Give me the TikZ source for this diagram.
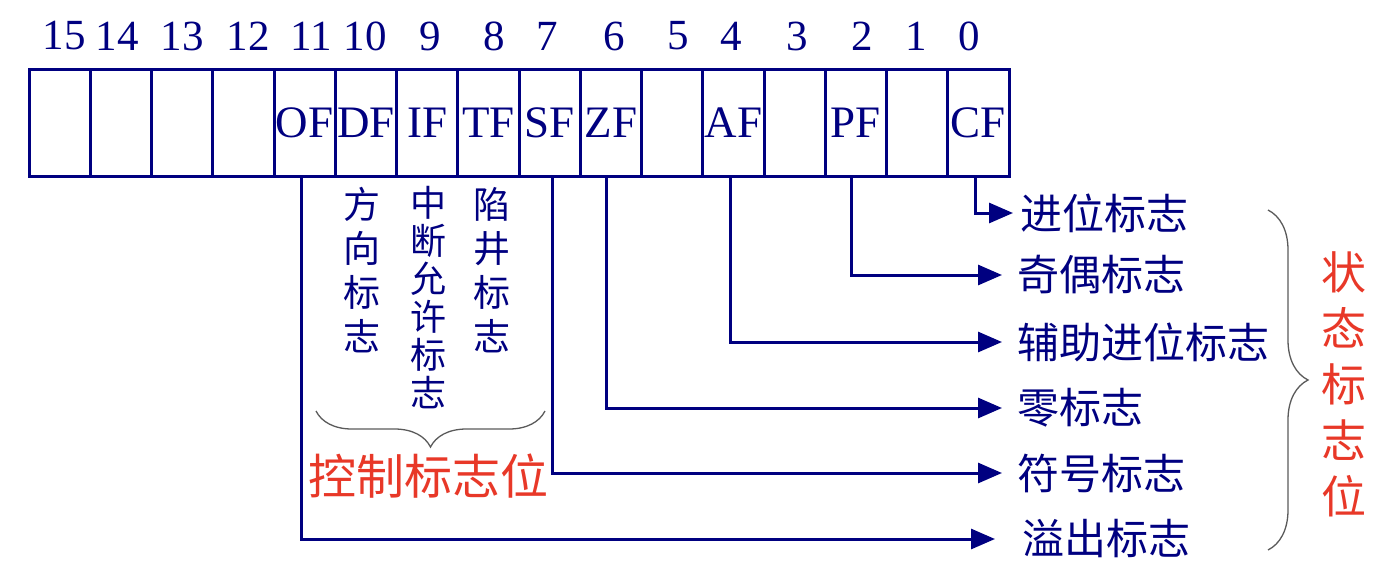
\documentclass[tikz,border=0pt]{standalone}
\usepackage{fontspec}
\setmainfont{Liberation Serif}
\newfontfamily\cjk{Noto Sans CJK SC}
\usetikzlibrary{arrows.meta,decorations.pathreplacing}
\definecolor{navy}{RGB}{0,0,128}
\definecolor{flagred}{RGB}{232,56,40}
\definecolor{bracegray}{RGB}{90,90,90}
\begin{document}
\begin{tikzpicture}[x=1pt,y=-1pt,
  cell/.style={draw=navy,line width=3pt,minimum width=61.25pt,minimum height=107pt,inner sep=0pt,text=navy,font=\fontsize{45}{45}\selectfont},
  bitnum/.style={text=navy,font=\fontsize{43}{43}\selectfont,inner sep=0pt},
  flagtext/.style={text=navy,font=\cjk\fontsize{42}{42}\selectfont,inner sep=0pt,anchor=west},
  vtext/.style={text=navy,align=center,inner sep=0pt},
  redtext/.style={text=flagred,inner sep=0pt,align=center},
  link/.style={draw=navy,line width=3pt},
  arr/.style={link,-{Triangle[length=24pt,width=20pt]}},
  brc/.style={draw=bracegray,line width=1.3pt,decorate},
]
\useasboundingbox (0,0) rectangle (1398,574);

% register cells
\foreach \b/\lab [count=\i from 0] in {15/,14/,13/,12/,11/OF,10/DF,9/IF,8/TF,7/SF,6/ZF,5/,4/AF,3/,2/PF,1/,0/CF}
  \node[cell] (b\b) at ({59.625+\i*61.25},122.5) {\lab};

% bit numbers
\foreach \b/\x in {15/64,14/117,13/182,12/248,11/311,10/365,9/430,8/494,7/547,6/614,5/678,4/731,3/797,2/862,1/916,0/969}
  \node[bitnum] (n\b) at (\x,36) {\b};

% status flag texts
\node[flagtext] (t0) at (1020,213) {进位标志};
\node[flagtext] (t2) at (1017,275) {奇偶标志};
\node[flagtext] (t4) at (1017,342) {辅助进位标志};
\node[flagtext] (t6) at (1017,408) {零标志};
\node[flagtext] (t7) at (1017,473) {符号标志};
\node[flagtext] (t11) at (1022,539) {溢出标志};

% connectors
\draw[arr] ([xshift=-3pt]b0.south) |- ([xshift=-7pt]t0.west);
\draw[arr] ([xshift=-4pt]b2.south) |- ([xshift=-15pt]t2.west);
\draw[arr] ([xshift=-3pt]b4.south) |- ([xshift=-15pt]t4.west);
\draw[arr] ([xshift=-4pt]b6.south) |- ([xshift=-15pt]t6.west);
\draw[arr] ([xshift=3pt]b7.south) |- ([xshift=-15pt]t7.west);
\draw[arr] ([xshift=-3pt]b11.south) |- ([xshift=-27pt]t11.west);

% control flag texts
\node[vtext,font=\cjk\fontsize{37}{44}\selectfont] (dft) at (362,270) {方\\向\\标\\志};
\node[vtext,font=\cjk\fontsize{36}{38}\selectfont] (ift) at (428,298) {中\\断\\允\\许\\标\\志};
\node[vtext,font=\cjk\fontsize{37}{44}\selectfont] (tft) at (492,270) {陷\\井\\标\\志};

% braces
\coordinate (cb1) at (545,411);
\coordinate (cb2) at (316,411);
\draw[brc,decoration={brace,amplitude=36pt}] (cb1) -- (cb2);
\node[redtext,font=\cjk\fontsize{48}{48}\selectfont] (ctrl) at (428,476) {控制标志位};

\coordinate (sb1) at (1268,210);
\coordinate (sb2) at (1268,550);
\draw[brc,decoration={brace,amplitude=40pt}] (sb1) -- (sb2);
\node[redtext,font=\cjk\fontsize{45}{56}\selectfont] (status) at (1344,384) {状\\态\\标\\志\\位};
\end{tikzpicture}
\end{document}
